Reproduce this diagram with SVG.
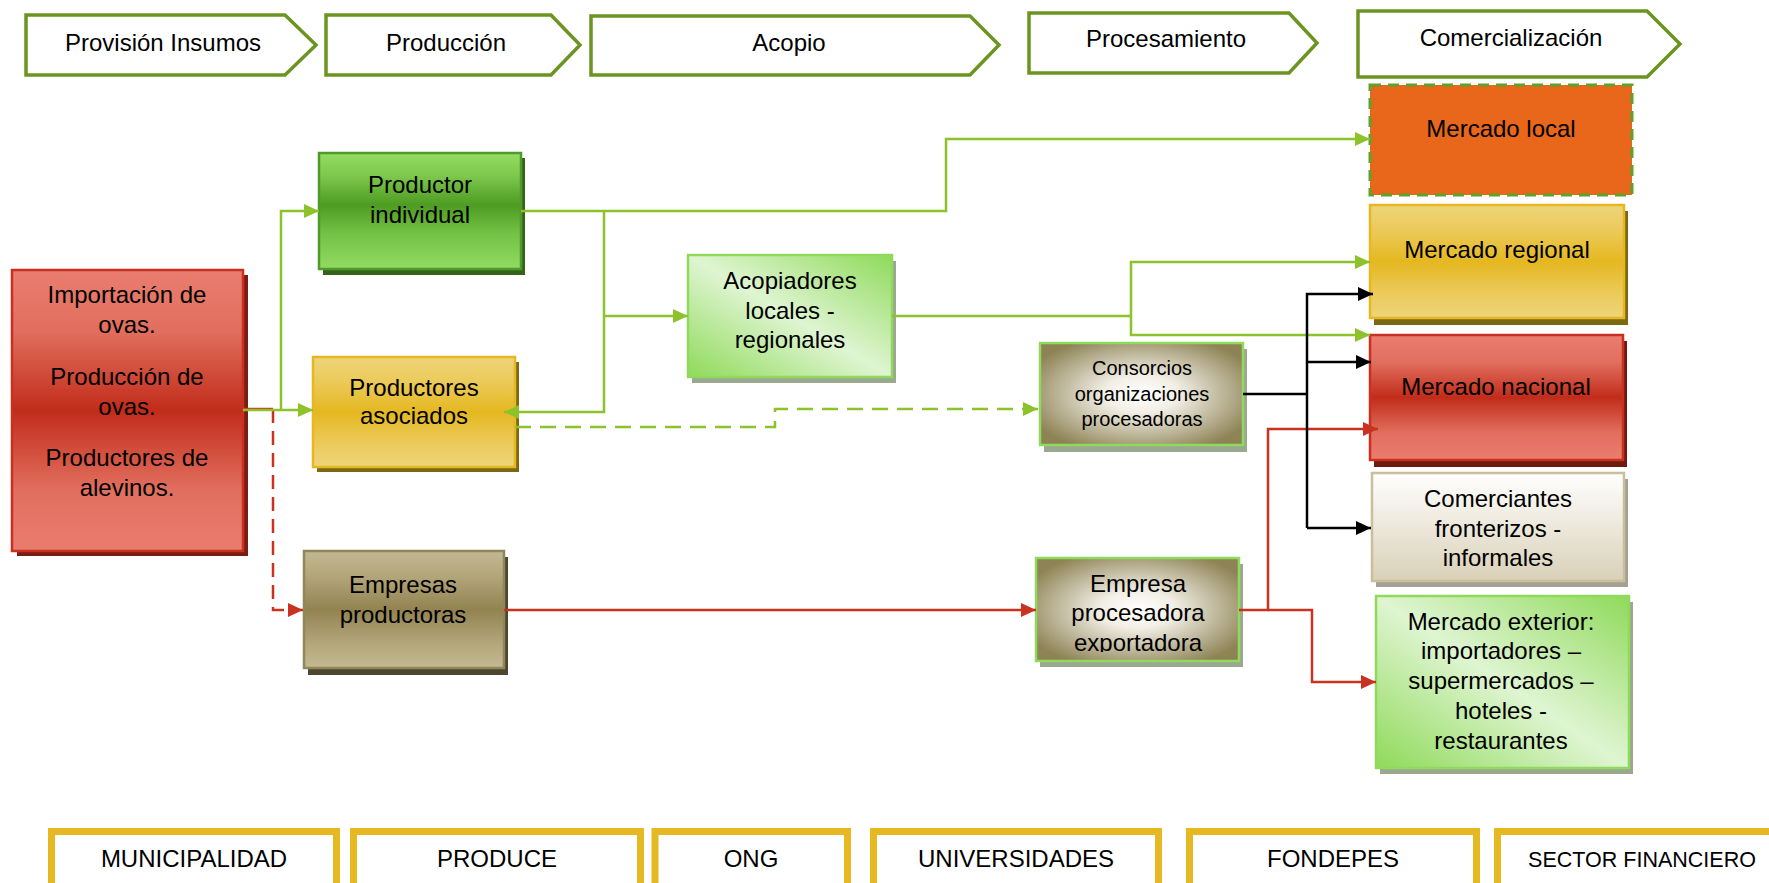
<svg xmlns="http://www.w3.org/2000/svg" width="1769" height="883" viewBox="0 0 1769 883">
<style>
  text { font-family: "Liberation Sans", Arial, sans-serif; fill: #000; text-anchor: middle; }
  .t24 { font-size: 24px; }
  .t20 { font-size: 20px; }
  .hdr { fill: #fff; stroke: #6B9421; stroke-width: 3.5; stroke-linejoin: miter; }
  .inst { fill: #fff; stroke: #E6B821; stroke-width: 7; }
  .g { fill: none; stroke: #8DC22B; stroke-width: 2.5; }
  .r { fill: none; stroke: #C8321F; stroke-width: 2.5; }
  .k { fill: none; stroke: #000; stroke-width: 2.5; }
</style>
<defs>
  <linearGradient id="gRed" x1="0" y1="0" x2="0" y2="1">
    <stop offset="0" stop-color="#EA7D6F"/>
    <stop offset="0.22" stop-color="#E16E5E"/>
    <stop offset="0.5" stop-color="#C22C1A"/>
    <stop offset="0.78" stop-color="#E16E5E"/>
    <stop offset="1" stop-color="#EA7D6F"/>
  </linearGradient>
  <linearGradient id="gGreen" x1="0" y1="0" x2="0" y2="1">
    <stop offset="0" stop-color="#95DC63"/>
    <stop offset="0.2" stop-color="#7CC74C"/>
    <stop offset="0.45" stop-color="#4F9C23"/>
    <stop offset="0.7" stop-color="#74C246"/>
    <stop offset="1" stop-color="#92DB62"/>
  </linearGradient>
  <linearGradient id="gYellow" x1="0" y1="0" x2="0" y2="1">
    <stop offset="0" stop-color="#EED57C"/>
    <stop offset="0.22" stop-color="#EBCA5A"/>
    <stop offset="0.5" stop-color="#E5B820"/>
    <stop offset="0.78" stop-color="#EBCA5A"/>
    <stop offset="1" stop-color="#EED57C"/>
  </linearGradient>
  <linearGradient id="gKhaki" x1="0" y1="0" x2="0" y2="1">
    <stop offset="0" stop-color="#C3B893"/>
    <stop offset="0.22" stop-color="#B2A57A"/>
    <stop offset="0.5" stop-color="#928350"/>
    <stop offset="0.78" stop-color="#B2A57A"/>
    <stop offset="1" stop-color="#C4B994"/>
  </linearGradient>
  <linearGradient id="gLight" x1="1" y1="0" x2="0" y2="1">
    <stop offset="0" stop-color="#8FDA5A"/>
    <stop offset="0.5" stop-color="#DFF5D2"/>
    <stop offset="1" stop-color="#8FDA5A"/>
  </linearGradient>
  <linearGradient id="gBeige" x1="0" y1="0" x2="0" y2="1">
    <stop offset="0" stop-color="#FFFFFF"/>
    <stop offset="1" stop-color="#D9D0B7"/>
  </linearGradient>
  <radialGradient id="gRad" cx="0.5" cy="0.5" r="0.6">
    <stop offset="0" stop-color="#FFFFFF"/>
    <stop offset="0.3" stop-color="#F2EFE6"/>
    <stop offset="1" stop-color="#8E8355"/>
  </radialGradient>
  <clipPath id="clipExp">
    <rect x="1036" y="558" width="203" height="94"/>
  </clipPath>
  <marker id="aG" viewBox="0 0 15 14" refX="15" refY="7" markerWidth="15" markerHeight="14" markerUnits="userSpaceOnUse" orient="auto">
    <path d="M0,0 L15,7 L0,14 z" fill="#8DC22B"/>
  </marker>
  <marker id="aR" viewBox="0 0 15 14" refX="15" refY="7" markerWidth="15" markerHeight="14" markerUnits="userSpaceOnUse" orient="auto">
    <path d="M0,0 L15,7 L0,14 z" fill="#C8321F"/>
  </marker>
  <marker id="aK" viewBox="0 0 15 14" refX="15" refY="7" markerWidth="15" markerHeight="14" markerUnits="userSpaceOnUse" orient="auto">
    <path d="M0,0 L15,7 L0,14 z" fill="#000"/>
  </marker>
</defs>

<!-- Stage headers -->
<g id="stage-provision">
  <polygon class="hdr" points="26,15 285,15 316,45 285,75 26,75"/>
  <text class="t24" x="163" y="51">Provisión Insumos</text>
</g>
<g id="stage-produccion">
  <polygon class="hdr" points="326,15 551,15 580,45 551,75 326,75"/>
  <text class="t24" x="446" y="51">Producción</text>
</g>
<g id="stage-acopio">
  <polygon class="hdr" points="591,16 970,16 999,45 970,75 591,75"/>
  <text class="t24" x="789" y="51">Acopio</text>
</g>
<g id="stage-procesamiento">
  <polygon class="hdr" points="1029,13 1289,13 1317,43 1289,73 1029,73"/>
  <text class="t24" x="1166" y="47">Procesamiento</text>
</g>
<g id="stage-comercializacion">
  <polygon class="hdr" points="1358,11 1647,11 1680,44 1647,77 1358,77"/>
  <text class="t24" x="1511" y="46">Comercialización</text>
</g>

<!-- Nodes -->
<g id="insumos">
  <rect x="17" y="275" width="231" height="281" fill="#7A1E13"/>
  <rect x="12" y="270" width="231" height="281" fill="url(#gRed)" stroke="#C9301F" stroke-width="2.5"/>
  <text class="t24" x="127" y="303">Importación de</text>
  <text class="t24" x="127" y="333">ovas.</text>
  <text class="t24" x="127" y="385">Producción de</text>
  <text class="t24" x="127" y="415">ovas.</text>
  <text class="t24" x="127" y="466">Productores de</text>
  <text class="t24" x="127" y="496">alevinos.</text>
</g>
<g id="productor-individual">
  <rect x="323" y="158" width="202" height="117" fill="#36621A"/>
  <rect x="319" y="153" width="202" height="116" fill="url(#gGreen)" stroke="#4E9A2A" stroke-width="2.5"/>
  <text class="t24" x="420" y="193">Productor</text>
  <text class="t24" x="420" y="223">individual</text>
</g>
<g id="productores-asociados">
  <rect x="317" y="362" width="202" height="110" fill="#7C6813"/>
  <rect x="313" y="357" width="202" height="110" fill="url(#gYellow)" stroke="#E5B721" stroke-width="2.5"/>
  <text class="t24" x="414" y="396">Productores</text>
  <text class="t24" x="414" y="424">asociados</text>
</g>
<g id="empresas-productoras">
  <rect x="308" y="557" width="200" height="118" fill="#4D4730"/>
  <rect x="304" y="551" width="200" height="117" fill="url(#gKhaki)" stroke="#8F8659" stroke-width="2.5"/>
  <text class="t24" x="403" y="593">Empresas</text>
  <text class="t24" x="403" y="623">productoras</text>
</g>
<g id="acopiadores">
  <rect x="692" y="261" width="204" height="122" fill="#9AA88F"/>
  <rect x="688" y="255" width="204" height="122" fill="url(#gLight)" stroke="#8FD95C" stroke-width="2.5"/>
  <text class="t24" x="790" y="289">Acopiadores</text>
  <text class="t24" x="790" y="319">locales -</text>
  <text class="t24" x="790" y="348">regionales</text>
</g>
<g id="consorcios">
  <rect x="1044" y="349" width="203" height="103" fill="#9AA88F"/>
  <rect x="1040" y="343" width="203" height="102" fill="url(#gRad)" stroke="#8FD95C" stroke-width="2.5"/>
  <text class="t20" x="1142" y="375">Consorcios</text>
  <text class="t20" x="1142" y="401">organizaciones</text>
  <text class="t20" x="1142" y="426">procesadoras</text>
</g>
<g id="empresa-procesadora">
  <rect x="1040" y="564" width="203" height="103" fill="#9AA88F"/>
  <rect x="1036" y="558" width="203" height="103" fill="url(#gRad)" stroke="#8FD95C" stroke-width="2.5"/>
  <text class="t24" x="1138" y="592">Empresa</text>
  <text class="t24" x="1138" y="621">procesadora</text>
  <text class="t24" x="1138" y="651" clip-path="url(#clipExp)">exportadora</text>
</g>
<g id="mercado-local">
  <rect x="1370" y="85" width="262" height="110" fill="#E8671A" stroke="#5EA229" stroke-width="3" stroke-dasharray="11,7"/>
  <text class="t24" x="1501" y="137">Mercado local</text>
</g>
<g id="mercado-regional">
  <rect x="1374" y="211" width="254" height="114" fill="#7C6813"/>
  <rect x="1370" y="205" width="254" height="113" fill="url(#gYellow)" stroke="#E5B721" stroke-width="2.5"/>
  <text class="t24" x="1497" y="258">Mercado regional</text>
</g>
<g id="mercado-nacional">
  <rect x="1374" y="341" width="253" height="126" fill="#6E1A10"/>
  <rect x="1370" y="335" width="253" height="125" fill="url(#gRed)" stroke="#C9301F" stroke-width="2.5"/>
  <text class="t24" x="1496" y="395">Mercado nacional</text>
</g>
<g id="comerciantes">
  <rect x="1376" y="479" width="252" height="108" fill="#A3A096"/>
  <rect x="1372" y="473" width="252" height="108" fill="url(#gBeige)" stroke="#C9BF9A" stroke-width="2.5"/>
  <text class="t24" x="1498" y="507">Comerciantes</text>
  <text class="t24" x="1498" y="537">fronterizos -</text>
  <text class="t24" x="1498" y="566">informales</text>
</g>
<g id="mercado-exterior">
  <rect x="1380" y="602" width="253" height="172" fill="#9AA88F"/>
  <rect x="1376" y="596" width="253" height="172" fill="url(#gLight)" stroke="#8FD95C" stroke-width="2.5"/>
  <text class="t24" x="1501" y="630">Mercado exterior:</text>
  <text class="t24" x="1501" y="659">importadores –</text>
  <text class="t24" x="1501" y="689">supermercados –</text>
  <text class="t24" x="1501" y="719">hoteles -</text>
  <text class="t24" x="1501" y="749">restaurantes</text>
</g>

<!-- Institutions -->
<g id="municipalidad">
  <rect class="inst" x="51.5" y="831.5" width="285" height="90"/>
  <text class="t24" x="194" y="867">MUNICIPALIDAD</text>
</g>
<g id="produce">
  <rect class="inst" x="353.5" y="831.5" width="287" height="90"/>
  <text class="t24" x="497" y="867">PRODUCE</text>
</g>
<g id="ong">
  <rect class="inst" x="655" y="831.5" width="192.5" height="90"/>
  <text class="t24" x="751" y="867">ONG</text>
</g>
<g id="universidades">
  <rect class="inst" x="873.5" y="831.5" width="285" height="90"/>
  <text class="t24" x="1016" y="867">UNIVERSIDADES</text>
</g>
<g id="fondepes">
  <rect class="inst" x="1189.5" y="831.5" width="287" height="90"/>
  <text class="t24" x="1333" y="867">FONDEPES</text>
</g>
<g id="sector-financiero">
  <rect class="inst" x="1497.5" y="831.5" width="300" height="90"/>
  <text x="1642" y="867" style="font-size:21.5px">SECTOR FINANCIERO</text>
</g>

<!-- Connectors -->
<g id="connectors">
  <!-- red (Empresas productoras chain) -->
  <path class="r" d="M243,409 H273"/>
  <path class="r" d="M273,409 V610 H303" stroke-dasharray="14,8" marker-end="url(#aR)"/>
  <path class="r" d="M504,610 H1036" marker-end="url(#aR)"/>
  <path class="r" d="M1239,610 H1268 V429 H1378" marker-end="url(#aR)"/>
  <path class="r" d="M1268,610 H1312 V682 H1376" marker-end="url(#aR)"/>
  <!-- green -->
  <path class="g" d="M243,410 H313" marker-end="url(#aG)"/>
  <path class="g" d="M281,410 V211 H319" marker-end="url(#aG)"/>
  <path class="g" d="M521,211 H946 V139 H1370" marker-end="url(#aG)"/>
  <path class="g" d="M604,211 V412 H504" marker-end="url(#aG)"/>
  <path class="g" d="M604,316 H688" marker-end="url(#aG)"/>
  <path class="g" d="M892,316 H1131"/>
  <path class="g" d="M1131,316 V262 H1370" marker-end="url(#aG)"/>
  <path class="g" d="M1131,316 V335 H1370" marker-end="url(#aG)"/>
  <path class="g" d="M515,427 H775 V409 H1038" stroke-dasharray="16,9" marker-end="url(#aG)"/>
  <!-- black -->
  <path class="k" d="M1243,394 H1307"/>
  <path class="k" d="M1307,528 V294 H1373" marker-end="url(#aK)"/>
  <path class="k" d="M1307,362 H1371" marker-end="url(#aK)"/>
  <path class="k" d="M1307,528 H1371" marker-end="url(#aK)"/>
</g>
</svg>
